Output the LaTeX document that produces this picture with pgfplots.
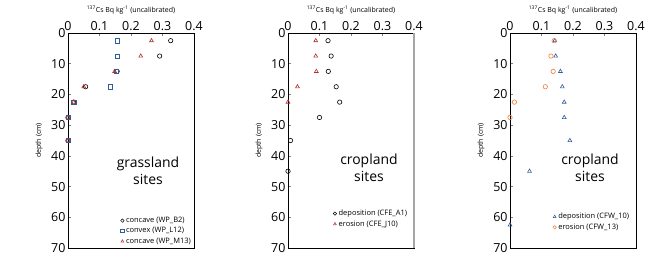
\documentclass[border=0pt]{standalone}
\usepackage{pgfplots}
\pgfplotsset{compat=1.18}
\usepackage{fontspec}
\setmainfont{Open Sans}
\definecolor{cblue}{HTML}{2F5D9C}
\definecolor{cred}{HTML}{B0302C}
\definecolor{corange}{HTML}{F07B3A}
\tikzset{anno/.style={font=\fontsize{7}{8}\selectfont}}
\pgfplotsset{
  panel/.style={
    scale only axis, width=126bp, height=215bp,
    xmin=0, xmax=0.4, ymin=0, ymax=70, y dir=reverse,
    xtick={0,0.1,0.2,0.3,0.4}, ytick={0,10,...,70},
    xticklabel pos=upper, xtick pos=upper, ytick pos=left,
    tick align=inside, major tick length=2.5bp,
    xticklabel style={/pgf/number format/fixed, /pgf/number format/precision=1, yshift=-1bp},
    yticklabel style={xshift=1bp},
    /pgf/number format/assume math mode=true,
    tick label style={font=\fontsize{12.5}{13}\selectfont},
    clip=false, axis line style={line width=0.8bp}, tick style={line width=0.6bp},
    legend cell align=left,
    legend style={draw=none, fill=none, font=\fontsize{7.5}{9}\selectfont, inner sep=1bp, row sep=-0.5bp},
    legend image post style={mark size=1.7bp, line width=0.5bp},
    every axis plot/.append style={only marks, line width=0.6bp, mark size=2.2bp, mark options={solid, fill=none}},
  },
}
\newcommand{\cstitle}{\textsuperscript{137}Cs Bq kg\textsuperscript{-1} (uncalibrated)}
\begin{document}
\begin{tikzpicture}[x=1bp,y=1bp]
\path[use as bounding box] (0,0) rectangle (657,255);
% Panel 1
\begin{axis}[panel, at={(68bp,7bp)}, anchor=south west,
  legend style={at={(1,0)}, anchor=south east}]
\addplot[black, mark=o] coordinates {(0.326,2.5)(0.291,7.5)(0.156,12.5)(0.056,17.5)(0.018,22.5)(0.0,27.5)(0.0,35)};
\addlegendentry{concave (WP\_B2)}
\addplot[cblue, mark=square] coordinates {(0.156,2.5)(0.156,7.5)(0.154,12.5)(0.135,17.5)(0.018,22.5)(0.0,27.5)(0.001,35)};
\addlegendentry{convex (WP\_L12)}
\addplot[cred, mark=triangle] coordinates {(0.265,2.5)(0.231,7.5)(0.148,12.5)(0.050,17.5)(0.018,22.5)(0.0,27.5)(0.0,35)};
\addlegendentry{concave (WP\_M13)}
\node[align=center, font=\fontsize{14}{17}\selectfont] at (axis cs:0.254,45) {grassland\\sites};
\node[anno] at (rel axis cs:0.5,1) [yshift=23bp] {\cstitle};
\node[xshift=-29bp, anno, rotate=90] at (rel axis cs:0,0.5) {depth (cm)};
\end{axis}
% Panel 2
\begin{axis}[panel, at={(288bp,7bp)}, anchor=south west,
  legend style={at={(0.97,0.08)}, anchor=south east}]
\addplot[black, mark=o] coordinates {(0.127,2.5)(0.137,7.5)(0.128,12.5)(0.153,17.5)(0.164,22.5)(0.100,27.5)(0.008,35)(0.0,45)};
\addlegendentry{deposition (CFE\_A1)}
\addplot[cred, mark=triangle] coordinates {(0.088,2.5)(0.088,7.5)(0.090,12.5)(0.030,17.5)(0.0,22.5)};
\addlegendentry{erosion (CFE\_J10)}
\node[align=center, font=\fontsize{14}{17}\selectfont] at (axis cs:0.257,44) {cropland\\sites};
\node[anno] at (rel axis cs:0.5,1) [yshift=23bp] {\cstitle};
\node[xshift=-29bp, anno, rotate=90] at (rel axis cs:0,0.5) {depth (cm)};
\draw[gray!70, line width=1.4bp] (rel axis cs:1,0) -- (rel axis cs:1,1);
\end{axis}
% Panel 3
\begin{axis}[panel, at={(510bp,7bp)}, anchor=south west,
  legend style={at={(0.97,0.065)}, anchor=south east}]
\addplot[cblue, mark=triangle] coordinates {(0.142,2.5)(0.145,7.5)(0.160,12.5)(0.166,17.5)(0.172,22.5)(0.172,27.5)(0.190,35)(0.062,45)(0.0,62.5)};
\addlegendentry{deposition (CFW\_10)}
\addplot[corange, mark=o] coordinates {(0.140,2.5)(0.130,7.5)(0.137,12.5)(0.112,17.5)(0.014,22.5)(0.0,27.5)};
\addlegendentry{erosion (CFW\_13)}
\node[align=center, font=\fontsize{14}{17}\selectfont] at (axis cs:0.254,44) {cropland\\sites};
\node[anno] at (rel axis cs:0.5,1) [yshift=23bp] {\cstitle};
\node[xshift=-29bp, anno, rotate=90] at (rel axis cs:0,0.5) {depth (cm)};
\end{axis}
\end{tikzpicture}
\end{document}
